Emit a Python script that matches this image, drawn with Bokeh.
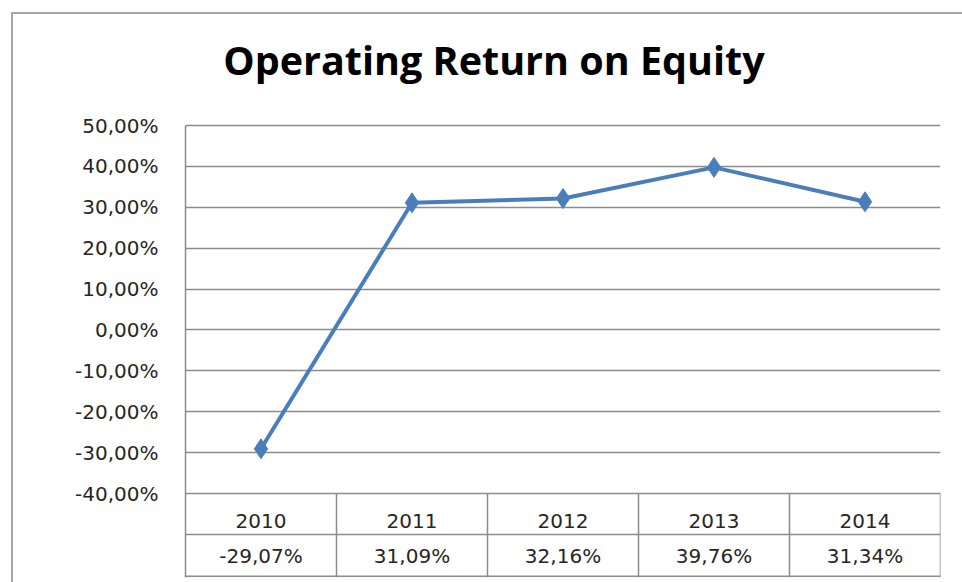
from bokeh.plotting import figure
from bokeh.models import (FixedTicker, CustomJSTickFormatter, Range1d, ColumnDataSource)
from bokeh.core.properties import value
from bokeh.embed import file_html
from bokeh.resources import INLINE

# ---- data ----
years = ["2010", "2011", "2012", "2013", "2014"]
roe = [-29.07, 31.09, 32.16, 39.76, 31.34]
roe_labels = ["-29,07%", "31,09%", "32,16%", "39,76%", "31,34%"]
y_ticks = [-40, -30, -20, -10, 0, 10, 20, 30, 40, 50]
title_text = "Operating Return on Equity"

# ---- layout constants ----
W, H = 962, 582
FRAME_L, FRAME_R, FRAME_T, FRAME_B = 185, 940, 0, 577
PLOT_TOP_PX = 125          # pixel row of the 50 % line
TITLE_ANCHOR_PX = 59
TITLE_CENTER_PX = 493.5
PX_PER_UNIT = 368 / 90.0
Y_MAX = y_ticks[-1]
Y_MIN = y_ticks[0]
Y_TOP = Y_MAX + (PLOT_TOP_PX - FRAME_T) / PX_PER_UNIT
Y_BOTTOM = Y_TOP - (FRAME_B - FRAME_T) / PX_PER_UNIT
ROW_SPLIT = -50
YEAR_ROW_Y = -46.8
VALUE_ROW_Y = -55.2
GRID = "#8c8c8c"
BORDER = "#a6a6a6"
BLUE = "#4A7EBB"
FONT = "DejaVu Sans"
TXT = "#262626"

n = len(years)
xs = [i + 0.5 for i in range(n)]
px_per_x = (FRAME_R - FRAME_L) / n

p = figure(width=W, height=H, output_backend="svg", toolbar_location=None,
           x_axis_type=None, x_range=Range1d(0, n), y_range=Range1d(Y_BOTTOM, Y_TOP),
           min_border_left=FRAME_L, min_border_right=W - FRAME_R,
           min_border_top=FRAME_T, min_border_bottom=H - FRAME_B)
p.outline_line_color = None
p.background_fill_color = None
p.border_fill_color = None
# outer chart-area border (left and top edges, as in the spreadsheet chart)
p.styles = {
    "background": (f"linear-gradient({BORDER},{BORDER}) 11px 12px / 2px 100% no-repeat, "
                   f"linear-gradient({BORDER},{BORDER}) 11px 12px / 100% 2px no-repeat, white"),
}

# title (drawn as text above the plot area)
p.text(x=[(TITLE_CENTER_PX - FRAME_L) / px_per_x],
       y=[Y_MAX + (PLOT_TOP_PX - TITLE_ANCHOR_PX) / PX_PER_UNIT],
       text=[title_text], text_align="center", text_baseline="alphabetic",
       text_font=value("Open Sans"), text_font_style="bold",
       text_font_size="39.5px", text_color="black")

# y axis
ax = p.yaxis[0]
ax.ticker = FixedTicker(ticks=y_ticks)
ax.bounds = (Y_BOTTOM, Y_MAX)
ax.formatter = CustomJSTickFormatter(code="return tick.toFixed(2).replace('.', ',') + '%';")
ax.axis_line_color = GRID
ax.axis_line_width = 1.5
ax.major_tick_line_color = None
ax.minor_tick_line_color = None
ax.major_tick_out = 0
ax.major_tick_in = 0
ax.major_label_standoff = 27
ax.major_label_text_font = FONT
ax.major_label_text_font_size = "20px"
ax.major_label_text_color = TXT

p.xgrid.visible = False
p.ygrid.ticker = FixedTicker(ticks=y_ticks)
p.ygrid.grid_line_color = GRID
p.ygrid.grid_line_width = 1.5

# data table grid
col_edges = list(range(1, n + 1))
p.segment(x0=col_edges, y0=[Y_MIN] * n, x1=col_edges, y1=[Y_BOTTOM] * n,
          line_color=GRID, line_width=1.5)
p.segment(x0=[0, 0], y0=[ROW_SPLIT, Y_BOTTOM + 0.3], x1=[n, n], y1=[ROW_SPLIT, Y_BOTTOM + 0.3],
          line_color=GRID, line_width=1.5)

src = ColumnDataSource(dict(x=xs, y=roe, year=years, lab=roe_labels,
                            yy=[YEAR_ROW_Y] * n, vy=[VALUE_ROW_Y] * n))
p.text(x="x", y="yy", text="year", source=src, text_align="center", text_baseline="middle",
       text_font=value(FONT), text_font_size="20px", text_color=TXT)
p.text(x="x", y="vy", text="lab", source=src, text_align="center", text_baseline="middle",
       text_font=value(FONT), text_font_size="20px", text_color=TXT)

# series
p.line(x="x", y="y", source=src, line_color=BLUE, line_width=4)
p.scatter(x="x", y="y", source=src, marker="diamond", size=20,
          fill_color=BLUE, line_color=BLUE)

open("out.html", "w").write(file_html(p, INLINE))
